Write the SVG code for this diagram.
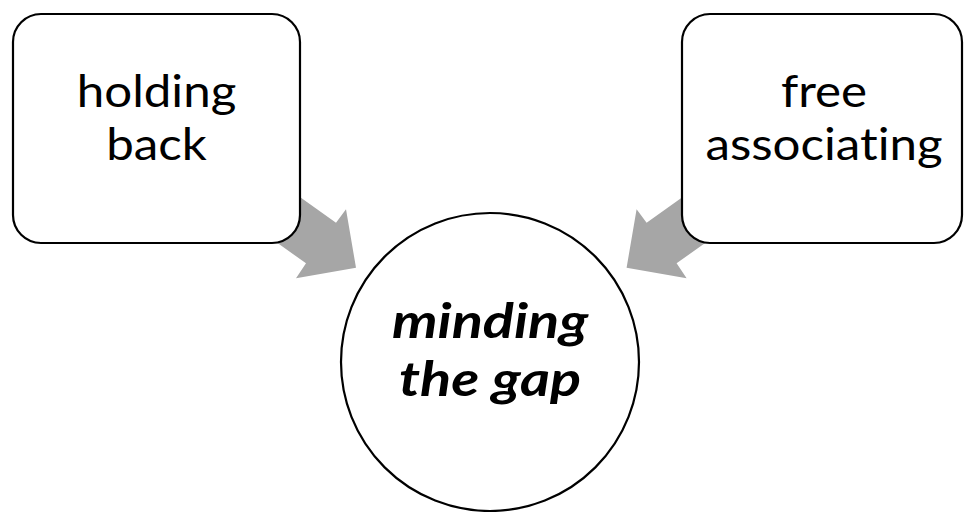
<svg xmlns="http://www.w3.org/2000/svg" width="964" height="512" viewBox="0 0 964 512">
<style>
.box{fill:#fff;stroke:#000;stroke-width:2.2}
.arrow{fill:#a6a6a6;stroke:none}
.t{font-family:Lato,"Open Sans",sans-serif;font-size:44px;fill:#000;text-anchor:middle;font-variant-ligatures:none;font-feature-settings:"liga" 0,"dlig" 0}
.c{font-family:Lato,"Open Sans",sans-serif;font-size:48px;font-weight:bold;font-style:italic;fill:#000;text-anchor:middle;font-variant-ligatures:none}
</style>
<rect width="964" height="512" fill="#fff"/>
<g id="connectors">
<polygon class="arrow" points="270.8,176.3 336,222.7 346,209.3 356,267.7 296,278.3 306,263.3 240.8,216.9"/>
<polygon class="arrow" points="711.8,176.3 646.6,222.7 636.6,209.3 626.6,267.7 686.6,278.3 676.6,263.3 741.8,216.9"/>
</g>
<g id="holding-back">
<rect class="box" x="13" y="14" width="287" height="229" rx="28"/>
<text class="t" transform="translate(156.5,0) scale(1.12,1)"><tspan x="0" y="107">holding</tspan><tspan x="0" y="160">back</tspan></text>
</g>
<g id="free-associating">
<rect class="box" x="682" y="14" width="280" height="229" rx="28"/>
<text class="t" transform="translate(824,0) scale(1.12,1)"><tspan x="0" y="107">free</tspan><tspan x="0" y="160">associating</tspan></text>
</g>
<g id="minding-the-gap">
<circle class="box" cx="490" cy="362" r="149"/>
<text class="c" transform="translate(490,0) scale(1.2,1)"><tspan x="0" y="338">minding</tspan><tspan x="0" y="396">the gap</tspan></text>
</g>
</svg>
